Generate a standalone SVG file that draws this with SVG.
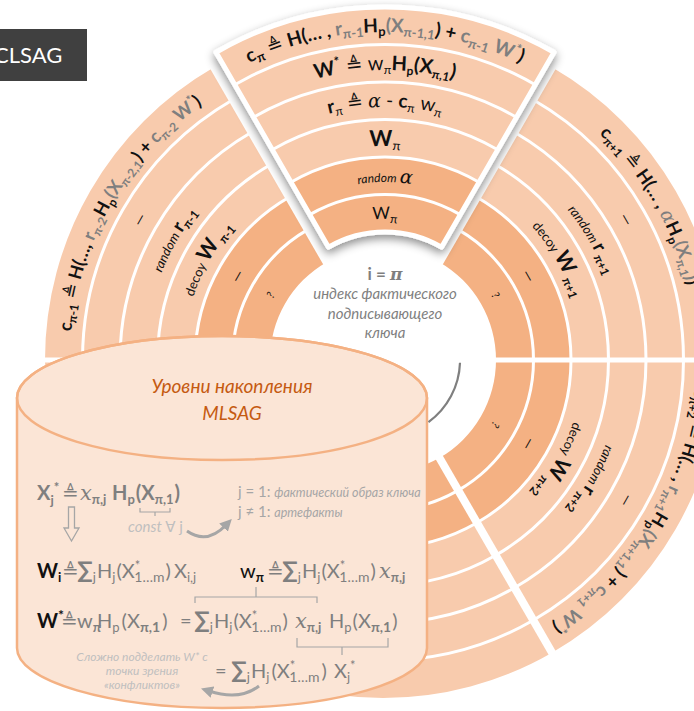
<svg xmlns="http://www.w3.org/2000/svg" width="694" height="711" viewBox="0 0 694 711">
<style>
.t{font-family:Lato,"Noto Sans","DejaVu Sans",sans-serif;fill:#111}
.b{font-weight:700}
.n{font-weight:400}
.i{font-style:italic}
.g{fill:#7f7f7f}
.lg{fill:#a6a6a6}
.xg{fill:#bfbfbf}
.k{fill:#111}
.m{font-family:"DejaVu Serif","Liberation Serif",serif;font-style:italic;font-weight:400}
.dk{fill:#f4b183}
.lt{fill:#f8cbad}
.sep{fill:none;stroke:#fff;stroke-width:3}
.gap{stroke:#fff;fill:none}
.br{fill:none;stroke:#a6a6a6;stroke-width:1.2}
.arr{fill:none;stroke:#a6a6a6;stroke-width:3}
</style>
<defs>
<filter id="sh" x="-15%" y="-15%" width="130%" height="135%">
<feGaussianBlur in="SourceAlpha" stdDeviation="5"/>
<feOffset dx="0" dy="4" result="b"/>
<feFlood flood-color="#000" flood-opacity="0.45"/>
<feComposite in2="b" operator="in"/>
<feMerge><feMergeNode/><feMergeNode in="SourceGraphic"/></feMerge>
</filter>
<marker id="ah" viewBox="0 0 10 10" refX="3" refY="5" markerWidth="4" markerHeight="4" orient="auto"><path d="M0,0 L10,5 L0,10 Z" fill="#a6a6a6"/></marker>
<path id="pL5" d="M70.19,349.08 A313,313 0 0 1 217.14,94.56"/>
<path id="pL4" d="M107.17,350.37 A276,276 0 0 1 236.74,125.94"/>
<path id="pL3" d="M145.15,351.69 A238,238 0 0 1 256.88,158.16"/>
<path id="pL2" d="M183.12,353.02 A200,200 0 0 1 277.02,190.39"/>
<path id="pL1" d="M220.10,354.31 A163,163 0 0 1 296.62,221.77"/>
<path id="pL0" d="M257.08,355.60 A126,126 0 0 1 316.23,253.15"/>
<path id="pR5" d="M548.86,94.56 A313,313 0 0 1 695.81,349.08"/>
<path id="pR4" d="M529.26,125.94 A276,276 0 0 1 658.83,350.37"/>
<path id="pR3" d="M509.12,158.16 A238,238 0 0 1 620.85,351.69"/>
<path id="pR2" d="M488.98,190.39 A200,200 0 0 1 582.88,353.02"/>
<path id="pR1" d="M469.38,221.77 A163,163 0 0 1 545.90,354.31"/>
<path id="pR0" d="M449.77,253.15 A126,126 0 0 1 508.92,355.60"/>
<path id="pD5" d="M695.81,370.92 A313,313 0 0 1 548.86,625.44"/>
<path id="pD4" d="M658.83,369.63 A276,276 0 0 1 529.26,594.06"/>
<path id="pD3" d="M620.85,368.31 A238,238 0 0 1 509.12,561.84"/>
<path id="pD2" d="M582.88,366.98 A200,200 0 0 1 488.98,529.61"/>
<path id="pD1" d="M545.90,365.69 A163,163 0 0 1 469.38,498.23"/>
<path id="pD0" d="M508.92,364.40 A126,126 0 0 1 449.77,466.85"/>
<path id="pT5" d="M238.06,68.64 A313,313 0 0 1 531.94,68.64"/>
<path id="pT4" d="M255.90,102.19 A275,275 0 0 1 514.10,102.19"/>
<path id="pT3" d="M273.27,134.86 A238,238 0 0 1 496.73,134.86"/>
<path id="pT2" d="M291.58,169.29 A199,199 0 0 1 478.42,169.29"/>
<path id="pT1" d="M308.48,201.08 A163,163 0 0 1 461.52,201.08"/>
<path id="pT0" d="M325.85,233.75 A126,126 0 0 1 444.15,233.75"/>
</defs>

<rect width="694" height="711" fill="#fff"/>

<g id="label-clsag">
<rect x="0" y="29" width="87" height="52" fill="#404040"/>
<text class="t" x="-6" y="63" font-size="22" style="fill:#fff">CLSAG</text>
</g>

<g id="sector-pi-minus-1">
<path class="lt" d="M45,360 A338,338 0 0 1 214,67.28 L289,197.19 A188,188 0 0 0 195,360 Z"/>
<path class="dk" d="M195,360 A188,188 0 0 1 289,197.19 L326.5,262.14 A113,113 0 0 0 270,360 Z"/>
<path class="sep" d="M232.5,360 A150.5,150.5 0 0 1 307.75,229.66 M195,360 A188,188 0 0 1 289,197.19 M157.5,360 A225.5,225.5 0 0 1 270.25,164.71 M120,360 A263,263 0 0 1 251.5,132.23 M82.5,360 A300.5,300.5 0 0 1 232.75,99.76"/>
<text class="t b" font-size="18"><textPath href="#pL5" startOffset="50%" text-anchor="middle">c<tspan font-size="12" dy="4">π-1</tspan><tspan class="n" dy="-4"> ≜ </tspan>H(…, <tspan class="g">r</tspan><tspan class="g" font-size="12" dy="4">π-2</tspan><tspan dy="-4">H</tspan><tspan font-size="12" dy="4">p</tspan><tspan class="g" dy="-4">(X</tspan><tspan class="g" font-size="12" dy="4">π-2,1</tspan><tspan dy="-4">) + </tspan><tspan class="g">c</tspan><tspan class="g" font-size="12" dy="4">π-2</tspan><tspan class="g" dy="-4"> W</tspan><tspan class="g" font-size="12" dy="-7">*</tspan><tspan dy="7">)</tspan></textPath></text>
<text class="t n" font-size="15"><textPath href="#pL4" startOffset="50%" text-anchor="middle">—</textPath></text>
<text class="t b" font-size="19"><textPath href="#pL3" startOffset="50%" text-anchor="middle"><tspan class="n i" font-size="13">random </tspan>r<tspan font-size="12" dy="4">π-1</tspan></textPath></text>
<text class="t b" font-size="21"><textPath href="#pL2" startOffset="50%" text-anchor="middle"><tspan class="n" font-size="13">decoy </tspan>W<tspan font-size="12" dy="4"> π-1</tspan></textPath></text>
<text class="t n" font-size="15"><textPath href="#pL1" startOffset="50%" text-anchor="middle">—</textPath></text>
<text class="t n i" font-size="11"><textPath href="#pL0" startOffset="50%" text-anchor="middle">?</textPath></text>
</g>

<g id="sector-pi-plus-1">
<path class="lt" d="M552,67.28 A338,338 0 0 1 721,360 L571,360 A188,188 0 0 0 477,197.19 Z"/>
<path class="dk" d="M477,197.19 A188,188 0 0 1 571,360 L496,360 A113,113 0 0 0 439.5,262.14 Z"/>
<path class="sep" d="M458.25,229.66 A150.5,150.5 0 0 1 533.5,360 M477,197.19 A188,188 0 0 1 571,360 M495.75,164.71 A225.5,225.5 0 0 1 608.5,360 M514.5,132.23 A263,263 0 0 1 646,360 M533.25,99.76 A300.5,300.5 0 0 1 683.5,360"/>
<text class="t b" font-size="18"><textPath href="#pR5" startOffset="50%" text-anchor="middle">c<tspan font-size="12" dy="4">π+1</tspan><tspan class="n" dy="-4"> ≜ </tspan>H(… , <tspan class="g m" font-size="19">α</tspan>H<tspan font-size="12" dy="4">p</tspan><tspan class="g" dy="-4">(X</tspan><tspan class="g" font-size="12" dy="4">π,1</tspan><tspan class="g" dy="-4">)</tspan>)</textPath></text>
<text class="t n" font-size="15"><textPath href="#pR4" startOffset="50%" text-anchor="middle">—</textPath></text>
<text class="t b" font-size="19"><textPath href="#pR3" startOffset="50%" text-anchor="middle"><tspan class="n i" font-size="13">random </tspan>r<tspan font-size="12" dy="4"> π+1</tspan></textPath></text>
<text class="t b" font-size="21"><textPath href="#pR2" startOffset="50%" text-anchor="middle"><tspan class="n" font-size="13">decoy </tspan>W<tspan font-size="12" dy="4"> π+1</tspan></textPath></text>
<text class="t n" font-size="15"><textPath href="#pR1" startOffset="50%" text-anchor="middle">—</textPath></text>
<text class="t n i" font-size="11"><textPath href="#pR0" startOffset="50%" text-anchor="middle">?</textPath></text>
</g>

<g id="sector-pi-plus-2">
<path class="lt" d="M721,360 A338,338 0 0 1 552,652.72 L477,522.81 A188,188 0 0 0 571,360 Z"/>
<path class="dk" d="M571,360 A188,188 0 0 1 477,522.81 L439.5,457.86 A113,113 0 0 0 496,360 Z"/>
<path class="sep" d="M533.5,360 A150.5,150.5 0 0 1 458.25,490.34 M571,360 A188,188 0 0 1 477,522.81 M608.5,360 A225.5,225.5 0 0 1 495.75,555.29 M646,360 A263,263 0 0 1 514.5,587.77 M683.5,360 A300.5,300.5 0 0 1 533.25,620.24"/>
<text class="t b" font-size="18"><textPath href="#pD5" startOffset="99%" text-anchor="end">c<tspan font-size="12" dy="4">π+2</tspan><tspan class="n" dy="-4"> ≜ </tspan>H(… , <tspan class="g">r</tspan><tspan class="g" font-size="12" dy="4">π+1</tspan><tspan dy="-4">H</tspan><tspan font-size="12" dy="4">p</tspan><tspan class="g" dy="-4">(X</tspan><tspan class="g" font-size="12" dy="4">π+1,1</tspan><tspan dy="-4">) + </tspan><tspan class="g">c</tspan><tspan class="g" font-size="12" dy="4">π+1</tspan><tspan class="g" dy="-4"> W</tspan><tspan class="g" font-size="12" dy="-7">*</tspan><tspan dy="7">)</tspan></textPath></text>
<text class="t n" font-size="15"><textPath href="#pD4" startOffset="50%" text-anchor="middle">—</textPath></text>
<text class="t b" font-size="19"><textPath href="#pD3" startOffset="50%" text-anchor="middle"><tspan class="n i" font-size="13">random </tspan>r<tspan font-size="12" dy="4"> π+2</tspan></textPath></text>
<text class="t b" font-size="21"><textPath href="#pD2" startOffset="50%" text-anchor="middle"><tspan class="n" font-size="13">decoy </tspan>W<tspan font-size="12" dy="4"> π+2</tspan></textPath></text>
<text class="t n" font-size="15"><textPath href="#pD1" startOffset="50%" text-anchor="middle">—</textPath></text>
<text class="t n i" font-size="11"><textPath href="#pD0" startOffset="50%" text-anchor="middle">?</textPath></text>
</g>

<g id="sector-bottom">
<path class="lt" d="M552,652.72 A338,338 0 0 1 214,652.72 L289,522.81 A188,188 0 0 0 477,522.81 Z"/>
<path class="dk" d="M477,522.81 A188,188 0 0 1 289,522.81 L326.5,457.86 A113,113 0 0 0 439.5,457.86 Z"/>
<path class="sep" d="M458.25,490.34 A150.5,150.5 0 0 1 307.75,490.34 M477,522.81 A188,188 0 0 1 289,522.81 M495.75,555.29 A225.5,225.5 0 0 1 270.25,555.29 M514.5,587.77 A263,263 0 0 1 251.5,587.77 M533.25,620.24 A300.5,300.5 0 0 1 232.75,620.24"/>
</g>

<g id="sector-bottom-left">
<path class="lt" d="M214,652.72 A338,338 0 0 1 45,360 L195,360 A188,188 0 0 0 289,522.81 Z"/>
<path class="dk" d="M289,522.81 A188,188 0 0 1 195,360 L270,360 A113,113 0 0 0 326.5,457.86 Z"/>
<path class="sep" d="M307.75,490.34 A150.5,150.5 0 0 1 232.5,360 M289,522.81 A188,188 0 0 1 195,360 M270.25,555.29 A225.5,225.5 0 0 1 157.5,360 M251.5,587.77 A263,263 0 0 1 120,360 M232.75,620.24 A300.5,300.5 0 0 1 82.5,360"/>
</g>

<g id="sector-gaps" class="gap">
<path d="M490,360 L730,360" stroke-width="5"/>
<path d="M435.5,450.93 L558,663.1" stroke-width="8"/>
<path d="M330.5,450.93 L208,663.1" stroke-width="8"/>
<path d="M278,360 L30,360" stroke-width="5"/>
<path d="M330.5,269.07 L208,56.9" stroke-width="8"/>
<path d="M435.5,269.07 L558,56.9" stroke-width="8"/>
</g>

<g id="sector-pi">
<g filter="url(#sh)">
<path class="lt" d="M216,52.28 A338,338 0 0 1 554,52.28 L479,182.19 A188,188 0 0 0 291,182.19 Z"/>
<path class="dk" d="M291,182.19 A188,188 0 0 1 479,182.19 L441.5,247.14 A113,113 0 0 0 328.5,247.14 Z"/>
<path class="sep" d="M309.75,214.66 A150.5,150.5 0 0 1 460.25,214.66 M291,182.19 A188,188 0 0 1 479,182.19 M272.25,149.71 A225.5,225.5 0 0 1 497.75,149.71 M253.5,117.23 A263,263 0 0 1 516.5,117.23 M234.75,84.76 A300.5,300.5 0 0 1 535.25,84.76"/>
<path d="M216,52.28 A338,338 0 0 1 554,52.28 L441.5,247.14 A113,113 0 0 0 328.5,247.14 Z" fill="none" stroke="#fff" stroke-width="5" stroke-linejoin="round"/>
</g>
<text class="t b" font-size="19"><textPath href="#pT5" startOffset="50%" text-anchor="middle">c<tspan font-size="13" dy="4">π</tspan><tspan class="n" dy="-4"> ≜ </tspan>H(… , <tspan class="g">r</tspan><tspan class="g" font-size="13" dy="4">π-1</tspan><tspan dy="-4">H</tspan><tspan font-size="13" dy="4">p</tspan><tspan class="g" dy="-4">(X</tspan><tspan class="g" font-size="13" dy="4">π-1,1</tspan><tspan dy="-4">) + </tspan><tspan class="g">c</tspan><tspan class="g" font-size="13" dy="4">π-1</tspan><tspan class="g" dy="-4"> W</tspan><tspan class="g" font-size="13" dy="-7">*</tspan><tspan dy="7">)</tspan></textPath></text>
<text class="t b" font-size="20"><textPath href="#pT4" startOffset="50%" text-anchor="middle">W<tspan font-size="13" dy="-8">*</tspan><tspan class="n" dy="8"> ≜ w</tspan><tspan class="n" font-size="12" dy="4">π</tspan><tspan dy="-4">H</tspan><tspan font-size="12" dy="4">p</tspan><tspan dy="-4">(X</tspan><tspan font-size="12" dy="4">π,1</tspan><tspan dy="-4">)</tspan></textPath></text>
<text class="t b" font-size="19"><textPath href="#pT3" startOffset="50%" text-anchor="middle">r<tspan class="n" font-size="12" dy="4">π</tspan><tspan class="n" dy="-4"> ≜ </tspan><tspan class="m">α</tspan><tspan class="n"> - </tspan>c<tspan class="n" font-size="12" dy="4">π</tspan><tspan class="n" dy="-4"> w</tspan><tspan class="n" font-size="12" dy="4">π</tspan></textPath></text>
<text class="t b" font-size="22"><textPath href="#pT2" startOffset="50%" text-anchor="middle">W<tspan class="n" font-size="13" dy="4">π</tspan></textPath></text>
<text class="t" font-size="19"><textPath href="#pT1" startOffset="50%" text-anchor="middle"><tspan class="i" font-size="12">random </tspan><tspan class="m">α</tspan></textPath></text>
<text class="t n" font-size="17"><textPath href="#pT0" startOffset="50%" text-anchor="middle">W<tspan font-size="12" dy="4">π</tspan></textPath></text>
</g>

<g id="center-label">
<text class="t b g" x="385" y="280" font-size="17" text-anchor="middle">i = <tspan class="m" style="font-weight:700">π</tspan></text>
<text class="t i g" x="385" y="299" font-size="15" text-anchor="middle">индекс фактического</text>
<text class="t i g" x="385" y="319" font-size="15" text-anchor="middle">подписывающего</text>
<text class="t i g" x="385" y="338" font-size="15" text-anchor="middle">ключа</text>
</g>

<g id="accumulator">
<path d="M17,398 A205,62 0 0 1 427,398 L427,648 A205,60 0 0 1 17,648 Z" fill="#fbe5d6" stroke="#f4b183" stroke-width="2.5"/>
<ellipse cx="222" cy="398" rx="205" ry="62" fill="none" stroke="#f4b183" stroke-width="2.5"/>
<text class="t i" x="232" y="393" font-size="19" text-anchor="middle" style="fill:#c55a11">Уровни накопления</text>
<text class="t i" x="232" y="420" font-size="19" text-anchor="middle" style="fill:#c55a11">MLSAG</text>

<text class="t b g" font-size="20" y="500"><tspan x="37">X</tspan><tspan font-size="13" dy="5">j</tspan><tspan font-size="13" dy="-13">*</tspan><tspan class="n" dy="8" x="62">≜</tspan><tspan class="m" x="80" font-size="21">x</tspan><tspan font-size="13" dy="4">π,j</tspan><tspan dy="-4" x="112">H</tspan><tspan font-size="13" dy="4">p</tspan><tspan dy="-4" dx="1">(X</tspan><tspan font-size="13" dy="4">π,1</tspan><tspan dy="-4" dx="1">)</tspan></text>
<path class="br" d="M140,508 V512 H170 V508 M155,512 V516"/>
<text class="t i xg" x="128" y="532" font-size="15">const <tspan style="font-style:normal">∀ j</tspan></text>
<polygon points="68.5,507 74.5,507 74.5,528 79,528 71.5,541 64,528 68.5,528" fill="none" stroke="#a6a6a6" stroke-width="1.3"/>
<text class="t lg" x="238" y="497" font-size="15">j = 1: <tspan class="i" font-size="12.5">фактический образ ключа</tspan></text>
<text class="t lg" x="238" y="517" font-size="15">j ≠ 1: <tspan class="i" font-size="12.5">артефакты</tspan></text>

<text class="t g" font-size="20" y="578"><tspan x="37" class="b k">W</tspan><tspan class="b k" font-size="13" dy="4">i</tspan><tspan dy="-4" x="62">≜</tspan><tspan x="77" font-size="23" class="b">∑</tspan><tspan font-size="13" dy="4">j</tspan><tspan dy="-4" x="97">H</tspan><tspan font-size="13" dy="4">j</tspan><tspan dy="-4" dx="1">(X</tspan><tspan font-size="13" dy="-8">*</tspan><tspan font-size="14" dx="-6" dy="12">1…m</tspan><tspan dy="-4" dx="1">)</tspan><tspan x="174">X</tspan><tspan font-size="13" dy="4">i,j</tspan><tspan dy="-4" x="240" class="k">w</tspan><tspan class="b k" font-size="13" dy="4">π</tspan><tspan dy="-4" x="267">≜</tspan><tspan x="282" font-size="23" class="b">∑</tspan><tspan font-size="13" dy="4">j</tspan><tspan dy="-4" x="302">H</tspan><tspan font-size="13" dy="4">j</tspan><tspan dy="-4" dx="1">(X</tspan><tspan font-size="13" dy="-8">*</tspan><tspan font-size="14" dx="-6" dy="12">1…m</tspan><tspan dy="-4" dx="1">)</tspan><tspan x="379" class="m" font-size="21">x</tspan><tspan class="b" font-size="13" dy="4">π,j</tspan></text>
<path class="br" d="M195,603 V597 H317 V603 M256,597 V587"/>

<text class="t g" font-size="20" y="628"><tspan x="37" class="b k">W</tspan><tspan class="b k" font-size="14" dy="-8">*</tspan><tspan dy="8" x="61">≜</tspan><tspan x="77">w</tspan><tspan class="b" font-size="13" dy="4">π</tspan><tspan dy="-4" x="97">H</tspan><tspan font-size="13" dy="4">p</tspan><tspan dy="-4" dx="2">(X</tspan><tspan class="b" font-size="14" dy="4">π,1</tspan><tspan dy="-4" dx="2">)</tspan><tspan x="180">=</tspan><tspan x="194" font-size="23" class="b">∑</tspan><tspan font-size="13" dy="4">j</tspan><tspan dy="-4" x="214">H</tspan><tspan font-size="13" dy="4">j</tspan><tspan dy="-4" dx="1">(X</tspan><tspan font-size="13" dy="-8">*</tspan><tspan font-size="14" dx="-6" dy="12">1…m</tspan><tspan dy="-4" dx="1">)</tspan><tspan x="295" class="m" font-size="21">x</tspan><tspan class="b" font-size="13" dy="4">π,j</tspan><tspan dy="-4" x="329">H</tspan><tspan font-size="13" dy="4">p</tspan><tspan dy="-4" dx="1">(X</tspan><tspan class="b" font-size="14" dy="4">π,1</tspan><tspan dy="-4" dx="1">)</tspan></text>
<path class="br" d="M297,638 V647 H388 V638 M342,647 V655"/>

<text class="t g" font-size="20" y="678"><tspan x="215">=</tspan><tspan x="231" font-size="23" class="b">∑</tspan><tspan font-size="13" dy="4">j</tspan><tspan dy="-4" x="251">H</tspan><tspan font-size="13" dy="4">j</tspan><tspan dy="-4" dx="2">(X</tspan><tspan font-size="13" dy="-8">*</tspan><tspan font-size="14" dx="-6" dy="12">1…m</tspan><tspan dy="-4" dx="2">)</tspan><tspan x="334">X</tspan><tspan font-size="13" dy="4">j</tspan><tspan font-size="13" dy="-12">*</tspan></text>

<text class="t i xg" x="142" y="661" font-size="12" text-anchor="middle">Сложно подделать W* с</text>
<text class="t i xg" x="142" y="675" font-size="12" text-anchor="middle">точки зрения</text>
<text class="t i xg" x="142" y="689" font-size="12" text-anchor="middle">«конфликтов»</text>
</g>

<g id="connectors">
<path d="M460,362.7 A77,77 0 0 1 428.5,422.1" fill="none" stroke="#7f7f7f" stroke-width="2.2"/>
<path class="arr" d="M187,531 Q207,545 226,525" marker-end="url(#ah)"/>
<path class="arr" d="M259,686 Q240,701 209,691" marker-end="url(#ah)"/>
</g>
</svg>
